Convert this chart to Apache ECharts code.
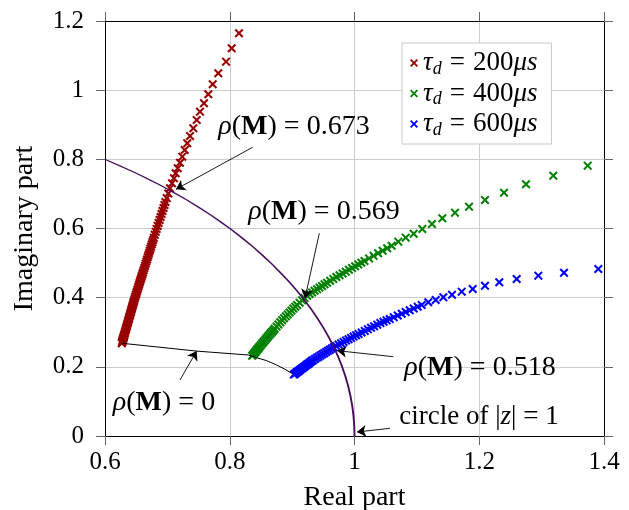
<!DOCTYPE html>
<html><head><meta charset="utf-8">
<script src="https://cdn.jsdelivr.net/npm/echarts@6/dist/echarts.min.js"></script>
<style>html,body{margin:0;padding:0;background:#fff}#c{width:629px;height:510px}</style>
</head><body><div id="c"></div>
<script>
// ---------- data ----------
const xTicks = [0.6, 0.8, 1.0, 1.2, 1.4];
const yTicks = [0, 0.2, 0.4, 0.6, 0.8, 1.0, 1.2];

const seriesNames = ['200', '400', '600'];

const tau200 = [
[0.627,0.268],[0.6274,0.2705],[0.6278,0.273],[0.6282,0.2755],[0.6286,0.278],[0.629,0.2805],[0.6294,0.283],[0.6298,0.2855],[0.6302,0.288],[0.6306,0.2905],
[0.631,0.293],[0.6316,0.297],[0.6322,0.301],[0.6329,0.305],[0.6335,0.309],[0.6342,0.313],[0.6348,0.317],[0.6354,0.321],[0.6361,0.325],[0.6367,0.329],
[0.6373,0.333],[0.638,0.337],[0.6386,0.341],[0.6392,0.345],[0.6399,0.349],[0.6405,0.353],[0.6412,0.357],[0.6418,0.361],[0.6424,0.365],[0.6431,0.369],
[0.6437,0.373],[0.6443,0.377],[0.645,0.381],[0.6456,0.385],[0.6462,0.389],
[0.6469,0.393],[0.6477,0.398],[0.6485,0.403],[0.6494,0.408],[0.6503,0.413],[0.6512,0.418],[0.652,0.423],[0.6529,0.428],[0.6538,0.433],[0.6547,0.438],
[0.6555,0.443],[0.6564,0.448],[0.6573,0.453],[0.6582,0.458],[0.659,0.463],[0.6599,0.468],
[0.6608,0.473],[0.6619,0.4793],[0.663,0.4855],[0.6641,0.4918],[0.6652,0.498],[0.6663,0.5043],[0.6674,0.5105],[0.6684,0.5168],[0.6695,0.523],[0.6706,0.5293],
[0.6717,0.5355],[0.6728,0.5418],[0.6739,0.548],[0.675,0.5543],[0.6761,0.5605],[0.6772,0.5668],
[0.6783,0.573],[0.6798,0.5816],[0.6813,0.5903],[0.6828,0.5989],[0.6844,0.6075],[0.6859,0.6161],[0.6875,0.6248],[0.6891,0.6334],[0.6906,0.642],[0.6922,0.6506],
[0.6938,0.6593],[0.6954,0.6679],[0.6969,0.6765],[0.699,0.688],[0.7014,0.7013],
[0.7042,0.7163],[0.7074,0.7308],[0.7106,0.7452],[0.7133,0.7597],[0.7166,0.7741],[0.7202,0.7903],[0.7239,0.8077],[0.7278,0.8271],[0.7319,0.8464],[0.7363,0.8676],
[0.7416,0.8898],[0.747,0.9138],[0.7523,0.9378],[0.7587,0.9621],[0.7656,0.9881],[0.7727,1.0171],[0.7816,1.0489],[0.794,1.0824],[0.8031,1.1212],[0.8148,1.1646]
];

const tau400 = [
[0.836,0.232],[0.8375,0.2353],[0.839,0.2386],[0.8405,0.2419],[0.842,0.2452],[0.8435,0.2485],[0.845,0.2519],[0.8465,0.2552],
[0.848,0.2585],[0.85,0.2629],[0.852,0.2673],[0.854,0.2717],[0.856,0.2762],[0.858,0.2806],[0.86,0.285],[0.862,0.2892],[0.864,0.2933],[0.866,0.2975],[0.868,0.3017],[0.87,0.3059],
[0.872,0.31],[0.875,0.3163],[0.878,0.3226],[0.881,0.3288],[0.884,0.3349],[0.887,0.3405],[0.89,0.346],[0.893,0.3516],[0.896,0.3572],[0.899,0.3628],[0.902,0.3684],[0.905,0.374],
[0.908,0.379],[0.912,0.3856],[0.916,0.3922],[0.92,0.3988],[0.924,0.4055],[0.928,0.4105],[0.932,0.4152],[0.936,0.4199],[0.94,0.4246],[0.944,0.4292],[0.948,0.4339],[0.952,0.4386],
[0.956,0.4433],[0.961,0.4491],[0.966,0.4543],[0.971,0.4596],[0.976,0.4648],[0.981,0.4701],[0.986,0.4753],[0.991,0.4806],[0.996,0.4858],[1.001,0.491],[1.006,0.4961],[1.011,0.5011],
[1.016,0.5062],[1.0233,0.5136],[1.0306,0.521],[1.0378,0.5283],[1.0451,0.5356],[1.0524,0.543],
[1.0596,0.5503],[1.0702,0.5619],[1.0821,0.5735],[1.0949,0.585],[1.1087,0.5986],[1.1242,0.6131],[1.1408,0.6296],[1.1611,0.6458],
[1.1836,0.6631],[1.2092,0.6825],[1.2397,0.7036],[1.275,0.7279],[1.3187,0.7528],[1.3739,0.7817]
];

const tau600 = [
[0.903,0.178],[0.9045,0.18],[0.906,0.1821],[0.9075,0.1841],[0.909,0.1861],[0.9105,0.1881],[0.912,0.1902],
[0.9135,0.1922],[0.9155,0.1949],[0.9175,0.1976],[0.9195,0.2004],[0.9215,0.2031],[0.9235,0.2058],[0.9255,0.2085],[0.9275,0.2112],[0.9295,0.2139],[0.9315,0.2166],
[0.9335,0.2193],[0.9365,0.2228],[0.9395,0.2261],[0.9425,0.2295],[0.9455,0.2328],[0.9485,0.2362],[0.9515,0.2395],[0.9545,0.2428],[0.9575,0.2462],[0.9605,0.2495],[0.9635,0.2529],
[0.9665,0.2562],[0.9705,0.2605],[0.9745,0.2643],[0.9785,0.2682],[0.9825,0.2721],[0.9865,0.276],[0.9905,0.2798],[0.9945,0.2837],[0.9985,0.2875],[1.0025,0.2913],
[1.0065,0.2949],[1.0115,0.2994],[1.0165,0.3039],[1.0215,0.3084],[1.0265,0.3129],[1.0315,0.3174],[1.0365,0.3219],[1.0415,0.3264],[1.0465,0.3304],[1.0515,0.3344],
[1.0565,0.3383],[1.0629,0.3433],[1.0693,0.3484],[1.0757,0.3535],[1.0821,0.3585],[1.0885,0.3636],[1.0949,0.3687],[1.1013,0.3737],
[1.1077,0.3788],[1.1183,0.3866],[1.1302,0.3933],[1.1424,0.4011],[1.1563,0.4086],[1.1719,0.4173],[1.1895,0.4251],
[1.2092,0.4346],[1.2321,0.4445],[1.26,0.454],[1.2947,0.4636],[1.3359,0.4722],[1.3909,0.4829]
];

// locus for rho(M) = 0
const rhoZeroLine = [[0.628,0.268],[0.747,0.2455],[0.8297,0.2342],[0.8432,0.2264],[0.8593,0.2178],[0.8753,0.2053],[0.8886,0.1929],[0.8993,0.1813]];

// unit circle |z| = 1 : centre and radius
const unitCircle = [[0, 0, 1]];

// annotations (data coordinates)
const annoText = [
  '{i|ρ}({b|M}) = 0.673',
  '{i|ρ}({b|M}) = 0.569',
  '{i|ρ}({b|M}) = 0.518',
  '{i|ρ}({b|M}) = 0',
  'circle of |{i|z}| = 1'
];
const annoPos  = [[0.903,0.8936],[0.9511,0.6478],[1.2012,0.1966],[0.6946,0.0954],[1.1996,0.0549]];
const arrowFrom = [[0.8368,0.8349],[0.9436,0.5862],[1.0622,0.2293],[0.7202,0.1619],[1.0569,0.0223]];
const arrowTo   = [[0.7138,0.7134],[0.9206,0.3982],[0.9724,0.2467],[0.747,0.2458],[1.004,0.0116]];

// ---------- chart ----------
const FONT = 'Liberation Serif';
const colors = ['#990000', '#008000', '#0000ff'];
const XPATH = 'path://M0,1.6L1.6,0L5,3.4L8.4,0L10,1.6L6.6,5L10,8.4L8.4,10L5,6.6L1.6,10L0,8.4L3.4,5Z';
const seriesData = [tau200, tau400, tau600];

const chart = echarts.init(document.getElementById('c'), null, {renderer: 'canvas'});

function baseAxis(extra) {
  return Object.assign({
    type: 'value',
    axisLine: {show: true, onZero: false, lineStyle: {color: '#000', width: 1}},
    axisTick: {show: true, inside: false, length: 9, lineStyle: {color: '#666', width: 1}},
    splitLine: {show: false},
    axisLabel: {show: false}
  }, extra);
}

const xMin = xTicks[0], xMax = xTicks[xTicks.length - 1];
const yMin = yTicks[0], yMax = yTicks[yTicks.length - 1];

const option = {
  animation: false,
  backgroundColor: '#fff',
  grid: {left: 105, right: 25, top: 21, bottom: 74, outerBoundsMode: 'none', containLabel: false},
  xAxis: [
    baseAxis({
      min: xMin, max: xMax, interval: 0.2, position: 'bottom',
      splitLine: {show: true, lineStyle: {color: '#cdcdcd', width: 1}},
      axisLabel: {show: true, fontFamily: FONT, fontSize: 25, color: '#000', margin: 14},
      name: 'Real part', nameLocation: 'middle', nameGap: 48,
      nameTextStyle: {fontFamily: FONT, fontSize: 28, color: '#000'}
    }),
    baseAxis({min: xMin, max: xMax, interval: 0.2, position: 'top'})
  ],
  yAxis: [
    baseAxis({
      min: yMin, max: yMax, interval: 0.2, position: 'left',
      splitLine: {show: true, lineStyle: {color: '#cdcdcd', width: 1}},
      axisLabel: {show: true, fontFamily: FONT, fontSize: 25, color: '#000', margin: 21},
      name: 'Imaginary part', nameLocation: 'middle', nameGap: 66, nameRotate: 90,
      nameTextStyle: {fontFamily: FONT, fontSize: 28, color: '#000'}
    }),
    baseAxis({min: yMin, max: yMax, interval: 0.2, position: 'right'})
  ],
  legend: {
    orient: 'vertical', left: 402, top: 43,
    backgroundColor: '#fff', borderColor: '#c8c8c8', borderWidth: 1,
    padding: [5, 14, 5, 8], itemGap: 0.5, itemWidth: 8, itemHeight: 8,
    icon: XPATH,
    data: seriesNames,
    formatter: function (name) { return '{i|τ}{s|d}{e|=}{t|' + name + '}{i|μs}'; },
    textStyle: {
      fontFamily: FONT, fontSize: 27, color: '#000', lineHeight: 30,
      rich: {
        i: {fontFamily: FONT, fontSize: 27, fontStyle: 'italic', lineHeight: 30},
        t: {fontFamily: FONT, fontSize: 27, lineHeight: 30},
        e: {fontFamily: FONT, fontSize: 27, lineHeight: 30, padding: [0, 8, 0, 8]},
        s: {fontFamily: FONT, fontSize: 18, fontStyle: 'italic', lineHeight: 18, verticalAlign: 'bottom'}
      }
    },
    selectedMode: false
  },
  series: [
    ...seriesData.map((d, k) => ({
      type: 'scatter', name: seriesNames[k], data: d,
      symbol: XPATH, symbolSize: 9,
      itemStyle: {color: colors[k], opacity: 1},
      z: 2, silent: true
    })),
    {
      type: 'custom', name: 'circle', data: unitCircle, clip: true, z: 3, silent: true,
      renderItem: function (params, api) {
        const c = api.coord([api.value(0), api.value(1)]);
        const r = api.value(2);
        const ex = api.coord([api.value(0) + r, api.value(1)]);
        const ey = api.coord([api.value(0), api.value(1) + r]);
        const rx = ex[0] - c[0];
        const ry = c[1] - ey[1];
        const start = -Math.acos((xMin - api.value(0)) / r);
        return {
          type: 'arc', x: c[0], y: c[1], scaleX: 1, scaleY: ry / rx,
          shape: {cx: 0, cy: 0, r: rx, startAngle: start, endAngle: 0, clockwise: true},
          style: {stroke: '#480a5c', lineWidth: 1.9, fill: null, strokeNoScale: true}
        };
      }
    },
    {
      type: 'line', name: 'rho0', data: rhoZeroLine, showSymbol: false, symbol: 'none',
      lineStyle: {color: '#000', width: 1}, z: 4, silent: true,
      markLine: {
        silent: true, symbol: ['none', 'arrow'], symbolSize: 9,
        label: {show: false},
        lineStyle: {color: '#000', width: 0.9, type: 'solid'},
        emphasis: {disabled: true},
        data: arrowFrom.map((p, k) => [{coord: p}, {coord: arrowTo[k]}])
      }
    }
  ]
};
chart.setOption(option);

const annoRich = {
  i: {fontFamily: FONT, fontSize: 28, fontStyle: 'italic'},
  b: {fontFamily: FONT, fontSize: 28, fontWeight: 'bold'}
};
chart.setOption({
  graphic: annoText.map((t, k) => {
    const p = chart.convertToPixel({gridIndex: 0}, annoPos[k]);
    const fs = k === 4 ? 27 : 28;
    return {
      type: 'text', x: p[0], y: p[1], z: 100, silent: true,
      style: {
        text: t, fill: '#000', fontFamily: FONT, fontSize: fs,
        align: 'center', verticalAlign: 'middle', textAlign: 'center', textVerticalAlign: 'middle',
        rich: k === 4 ? {i: {fontFamily: FONT, fontSize: fs, fontStyle: 'italic'}} : annoRich
      }
    };
  })
});
</script>
</body></html>
